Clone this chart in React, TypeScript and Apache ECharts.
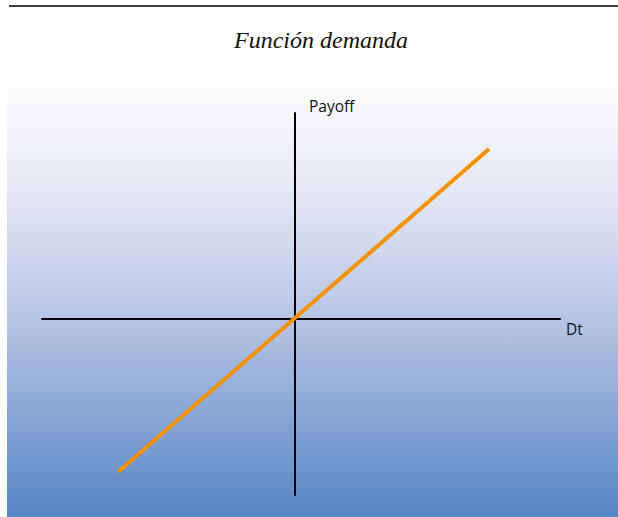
import React, { useEffect, useRef } from "react";
import * as echarts from "echarts";

const titleText = "Función demanda";
const xName = "Dt";
const yName = "Payoff";
const dtValues = [-17.7, 19.4];
const payoffValues = [-15.3, 17.0];
const xRange = [-25.3, 26.5];
const yRange = [-17.6, 20.6];

export default function App() {
  const ref = useRef<HTMLDivElement>(null);
  useEffect(() => {
    document.body.style.margin = "0";
    const chart = echarts.init(ref.current!, null, { renderer: "svg" });
    chart.setOption({
      animation: false,
      backgroundColor: "#ffffff",
      graphic: [
        {
          type: "rect",
          z: -10,
          shape: { x: 7, y: 78, width: 611, height: 439 },
          style: {
            fill: new echarts.graphic.LinearGradient(0, 0, 0, 1, [
              { offset: 0, color: "#ffffff" },
              { offset: 0.25, color: "#e6e9f5" },
              { offset: 0.55, color: "#b7c4e4" },
              { offset: 1, color: "#5686c5" },
            ]),
          },
        },
        {
          type: "line",
          shape: { x1: 9, y1: 6, x2: 618, y2: 6 },
          style: { stroke: "#000", lineWidth: 1.5 },
        },
      ],
      title: {
        text: titleText,
        left: 229,
        top: 23,
        textStyle: {
          fontFamily: "Liberation Serif",
          fontStyle: "italic",
          fontWeight: "normal",
          fontSize: 24,
          color: "#111",
        },
      },
      grid: { left: 42, right: 58, top: 113, bottom: 22, containLabel: false },
      xAxis: {
        type: "value",
        min: xRange[0],
        max: xRange[1],
        name: xName,
        nameLocation: "end",
        nameGap: 6,
        nameTextStyle: {
          fontFamily: "Open Sans",
          fontSize: 15.5,
          color: "#111",
          verticalAlign: "top",
          padding: [2, 0, 0, 0],
        },
        axisLine: { onZero: true, lineStyle: { color: "#000", width: 2 } },
        axisTick: { show: false },
        axisLabel: { show: false },
        splitLine: { show: false },
      },
      yAxis: {
        type: "value",
        min: yRange[0],
        max: yRange[1],
        name: yName,
        nameLocation: "end",
        nameGap: -1,
        nameTextStyle: {
          fontFamily: "Open Sans",
          fontSize: 15.5,
          color: "#111",
          align: "left",
          verticalAlign: "bottom",
          padding: [0, 0, 0, 14],
        },
        axisLine: { onZero: true, lineStyle: { color: "#000", width: 2 } },
        axisTick: { show: false },
        axisLabel: { show: false },
        splitLine: { show: false },
      },
      series: [
        {
          type: "line",
          data: dtValues.map((d, i) => [d, payoffValues[i]]),
          symbol: "none",
          lineStyle: { color: "#f39200", width: 4 },
        },
      ],
    });
    return () => chart.dispose();
  }, []);
  return <div ref={ref} style={{ position: "absolute", left: 0, top: 0, width: 618, height: 517 }} />;
}
